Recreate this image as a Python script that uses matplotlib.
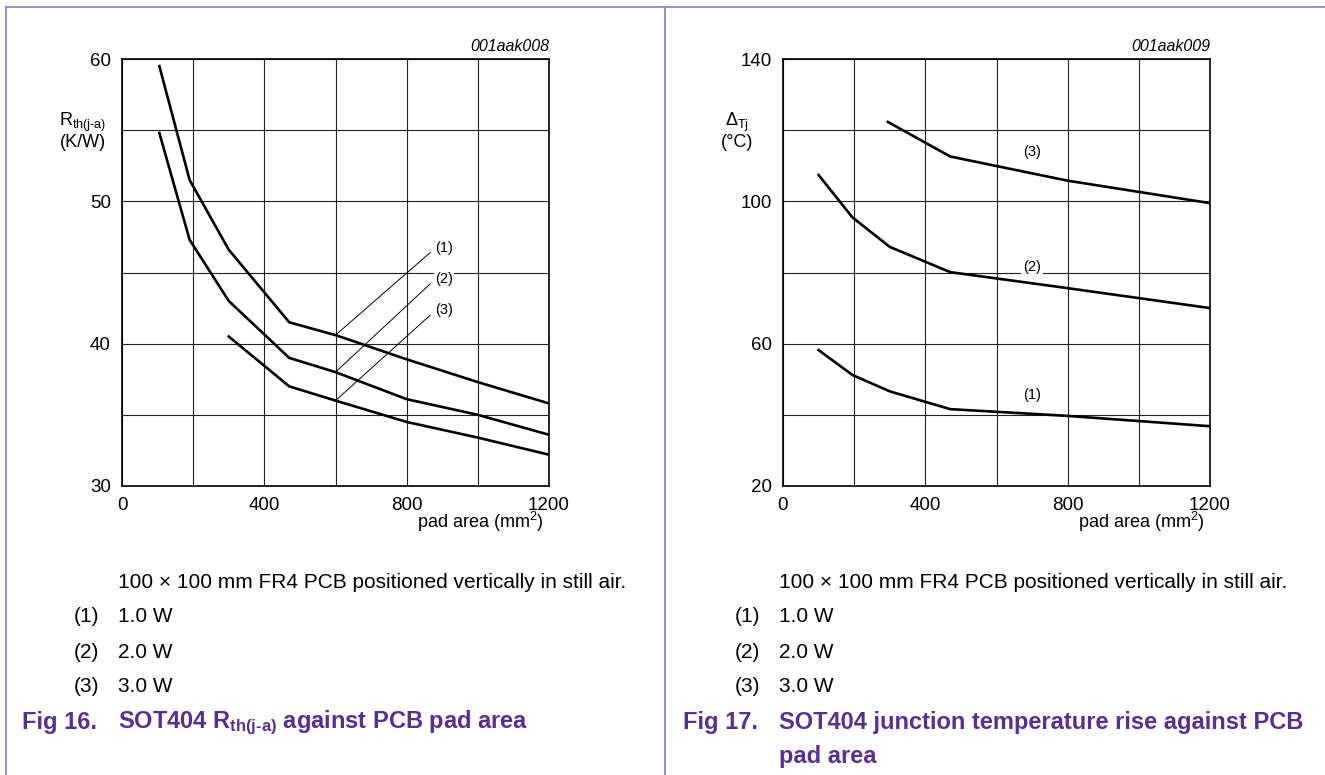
import matplotlib.pyplot as plt
from matplotlib.lines import Line2D

plt.rcParams['font.family'] = ['Liberation Sans', 'DejaVu Sans']
plt.rcParams['mathtext.fontset'] = 'custom'
plt.rcParams['mathtext.rm'] = 'Liberation Sans'
plt.rcParams['mathtext.it'] = 'Liberation Sans:italic'
plt.rcParams['mathtext.bf'] = 'Liberation Sans:bold'

# Fig 16: Rth(j-a) vs pad area
rth_pad_1 = [105, 190, 300, 470, 600, 800, 1000, 1200]
rth_1 = [59.5, 51.5, 46.6, 41.5, 40.6, 38.9, 37.3, 35.8]
rth_pad_2 = [105, 190, 300, 470, 600, 800, 1000, 1200]
rth_2 = [54.8, 47.3, 43.0, 39.0, 38.0, 36.1, 35.0, 33.6]
rth_pad_3 = [300, 470, 600, 800, 1000, 1200]
rth_3 = [40.5, 37.0, 36.0, 34.5, 33.4, 32.2]

# Fig 17: junction temperature rise vs pad area
tj_pad_1 = [100, 195, 300, 470, 800, 1200]
tj_1 = [58.2, 51.2, 46.6, 41.6, 39.7, 36.8]
tj_pad_2 = [100, 195, 300, 470, 800, 1200]
tj_2 = [107.4, 95.5, 87.2, 80.1, 75.6, 70.0]
tj_pad_3 = [295, 470, 800, 1200]
tj_3 = [122.3, 112.6, 105.8, 99.5]

legend_items = ['1.0 W', '2.0 W', '3.0 W']

W, H = 1325, 775
PURPLE = '#5c2d91'
FRAME = '#9a82c4'
LINE_KW = dict(color='black', linewidth=1.9, solid_joinstyle='miter')


def fx(px):
    return px / W


def fy(py):
    return 1 - py / H


def setup_axes(ax, ylim, ystep, code):
    ax.set_xlim(0, 1200)
    ax.set_ylim(*ylim)
    ax.set_xticks(range(0, 1201, 200))
    ax.set_xticklabels(['0', '', '400', '', '800', '', '1200'])
    yt = list(range(ylim[0], ylim[1] + 1, ystep))
    ax.set_yticks(yt)
    ax.set_yticklabels([str(v) if (v - ylim[0]) % (2 * ystep) == 0 else '' for v in yt])
    ax.tick_params(length=0, labelsize=13.5, pad=8)
    ax.grid(True, color='#222222', linewidth=0.8)
    for s in ax.spines.values():
        s.set_linewidth(1.2)
    ax.text(1.0, 1.012, code, transform=ax.transAxes, ha='right', va='bottom',
            fontsize=11.5, style='italic')


fig = plt.figure(figsize=(W / 100, H / 100), dpi=100)

ax1 = fig.add_axes([fx(122), fy(486), fx(549 - 122), (486 - 59) / H])
ax2 = fig.add_axes([fx(783), fy(486), fx(1210 - 783), (486 - 59) / H])

setup_axes(ax1, (30, 60), 5, '001aak008')
setup_axes(ax2, (20, 140), 20, '001aak009')

ax1.plot(rth_pad_1, rth_1, **LINE_KW)
ax1.plot(rth_pad_2, rth_2, **LINE_KW)
ax1.plot(rth_pad_3, rth_3, **LINE_KW)

# callout leaders for Fig 16
leaders = [((600, 40.6), (866, 46.4)), ((600, 38.0), (866, 44.2)), ((600, 36.0), (866, 42.0))]
for i, ((x0, y0), (x1, y1)) in enumerate(leaders):
    ax1.plot([x0, x1], [y0, y1], color='black', linewidth=0.7)
    ax1.text(880, y1 + 0.35, f'({i + 1})', fontsize=10.5, ha='left', va='center',
             bbox=dict(facecolor='white', edgecolor='none', pad=1.0))

ax2.plot(tj_pad_1, tj_1, **LINE_KW)
ax2.plot(tj_pad_2, tj_2, **LINE_KW)
ax2.plot(tj_pad_3, tj_3, **LINE_KW)

ax2.text(700, 45.5, '(1)', fontsize=10.5, ha='center', va='center')
ax2.text(700, 81.5, '(2)', fontsize=10.5, ha='center', va='center',
         bbox=dict(facecolor='white', edgecolor='none', pad=1.5))
ax2.text(700, 114, '(3)', fontsize=10.5, ha='center', va='center')

# axis labels
fig.text(fx(83), fy(131), 'R$_{\\rm th(j\u2010a)}$\n(K/W)', ha='center', va='center',
         fontsize=13, linespacing=1.0)
fig.text(fx(737), fy(131), '$\\Delta_{\\rm Tj}$\n(\u00b0C)', ha='center', va='center',
         fontsize=13, linespacing=1.0)
fig.text(fx(480), fy(522), 'pad area (mm$^{2}$)', ha='center', va='center', fontsize=13)
fig.text(fx(1141), fy(522), 'pad area (mm$^{2}$)', ha='center', va='center', fontsize=13)

# captions
for x_off in (0, 661):
    fig.text(fx(118 + x_off), fy(582), '100 \u00d7 100 mm FR4 PCB positioned vertically in still air.',
             ha='left', va='center', fontsize=15)
    for i, item in enumerate(legend_items):
        y = 617 + 35 * i
        fig.text(fx(74 + x_off), fy(y), f'({i + 1})', ha='left', va='center', fontsize=15)
        fig.text(fx(118 + x_off), fy(y), item, ha='left', va='center', fontsize=15)

fig.text(fx(22), fy(723), 'Fig 16.', ha='left', va='center', fontsize=17,
         fontweight='bold', color=PURPLE)
fig.text(fx(118), fy(723), 'SOT404 R$_{\\mathbf{th(j\u2010a)}}$ against PCB pad area', ha='left',
         va='center', fontsize=17, fontweight='bold', color=PURPLE)
fig.text(fx(683), fy(723), 'Fig 17.', ha='left', va='center', fontsize=17,
         fontweight='bold', color=PURPLE)
fig.text(fx(779), fy(723), 'SOT404 junction temperature rise against PCB', ha='left',
         va='center', fontsize=17, fontweight='bold', color=PURPLE)
fig.text(fx(779), fy(757), 'pad area', ha='left', va='center', fontsize=17,
         fontweight='bold', color=PURPLE)

# frame lines
fig.add_artist(Line2D([fx(6), 1], [fy(7), fy(7)], color=FRAME, linewidth=1.3))
fig.add_artist(Line2D([fx(6), fx(6)], [0, fy(7)], color=FRAME, linewidth=1.3))
fig.add_artist(Line2D([fx(665), fx(665)], [0, fy(7)], color=FRAME, linewidth=1.3))

fig.savefig('out.png', dpi=100)
